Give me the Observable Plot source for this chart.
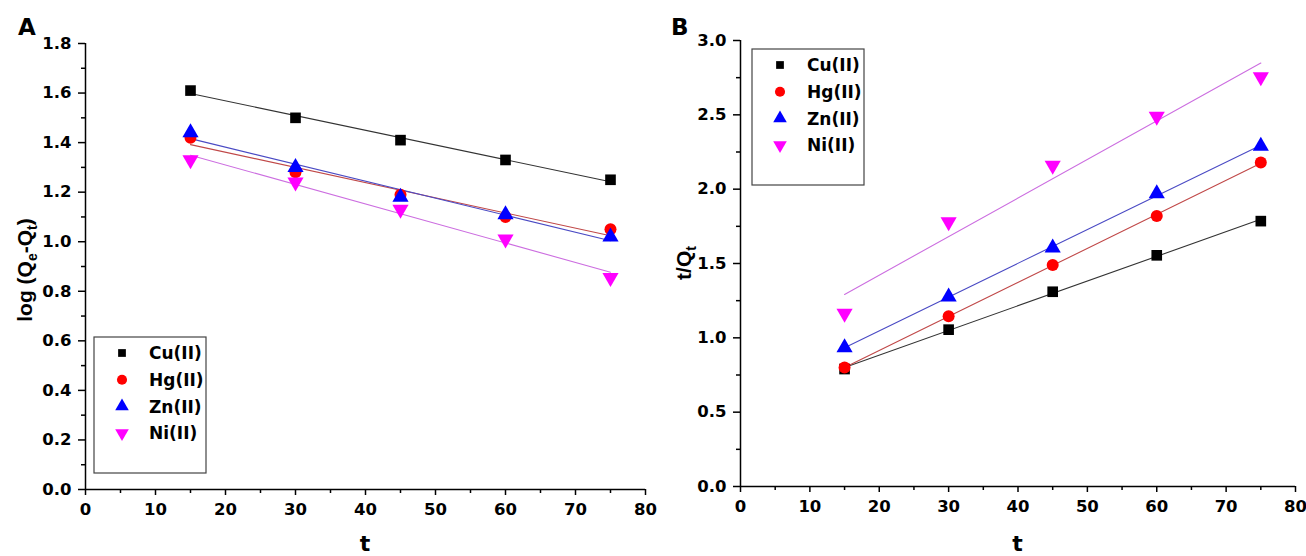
<!DOCTYPE html>
<html>
<head>
<meta charset="utf-8">
<script src="https://cdn.jsdelivr.net/npm/d3@7"></script>
<script src="https://cdn.jsdelivr.net/npm/@observablehq/plot@0.6"></script>
<style>
  html, body { margin: 0; padding: 0; background: #fff; }
  #wrap { width: 1306px; height: 556px; display: flex; background: #fff; }
  #wrap svg { display: block; background: transparent !important; }
  #wrap svg g[aria-label$="tick label"] text { font-size: 16.5px !important; font-family: 'DejaVu Sans', sans-serif !important; font-weight: bold !important; }
</style>
</head>
<body>
<div id="wrap"></div>
<script>
// ---- data ----
const times = [15, 30, 45, 60, 75];
const metals = ["Cu(II)", "Hg(II)", "Zn(II)", "Ni(II)"];
const markerColors = ["#000000", "#ff0000", "#0000ff", "#ff00ff"];
const lineColors = ["#333333", "#c04848", "#4a4ac4", "#cc6ee0"];
const symbols = ["square", "circle", "triangle", "triangle"];
const rotations = [0, 0, 0, 180];

// Panel A: log(Qe - Qt)
const logCu = [1.61, 1.50, 1.41, 1.33, 1.25];
const logHg = [1.42, 1.28, 1.19, 1.10, 1.05];
const logZn = [1.44, 1.30, 1.18, 1.11, 1.02];
const logNi = [1.33, 1.24, 1.13, 1.01, 0.855];

// Panel B: t/Qt
const tqCu = [0.79, 1.055, 1.31, 1.555, 1.785];
const tqHg = [0.80, 1.145, 1.49, 1.82, 2.18];
const tqZn = [0.935, 1.275, 1.605, 1.97, 2.29];
const tqNi = [1.165, 1.78, 2.16, 2.49, 2.755];

const xTicks = [0, 10, 20, 30, 40, 50, 60, 70, 80];
const xMinor = [5, 15, 25, 35, 45, 55, 65, 75];
const yTicksA = [0, 0.2, 0.4, 0.6, 0.8, 1.0, 1.2, 1.4, 1.6, 1.8];
const yMinorA = [0.1, 0.3, 0.5, 0.7, 0.9, 1.1, 1.3, 1.5, 1.7];
const yTicksB = [0, 0.5, 1.0, 1.5, 2.0, 2.5, 3.0];
const yMinorB = [0.25, 0.75, 1.25, 1.75, 2.25, 2.75];

const WIDE = "'DejaVu Sans', Verdana, sans-serif";
const NARROW = "'Liberation Sans', Arial, Helvetica, sans-serif";

function rows(seriesList) {
  const out = [];
  seriesList.forEach((vals, i) => vals.forEach((v, j) => out.push({metal: metals[i], idx: i, t: times[j], v})));
  return out;
}

function panel(cfg) {
  const data = rows(cfg.series);
  const marks = [
    Plot.axisX({ticks: xMinor, tickSize: 4, text: null, label: null, strokeWidth: 1.5}),
    Plot.axisY({ticks: cfg.yMinor, tickSize: 4, text: null, label: null, strokeWidth: 1.5}),
    Plot.axisX({ticks: xTicks, tickSize: 6, tickPadding: 8, label: null, strokeWidth: 1.5,
      fontSize: 16.5, fontWeight: "bold", fontFamily: WIDE, tickFormat: d3.format("d")}),
    Plot.axisY({ticks: cfg.yTicks, tickSize: 7, tickPadding: 7, label: null, strokeWidth: 1.5,
      fontSize: 16.5, fontWeight: "bold", fontFamily: WIDE, tickFormat: d3.format(".1f")}),
    Plot.ruleX([0], {stroke: "#000", strokeWidth: 1.5}),
    Plot.ruleY([0], {stroke: "#000", strokeWidth: 1.5})
  ];
  metals.forEach((m, i) => {
    marks.push(Plot.linearRegressionY(data.filter(d => d.idx === i), {x: "t", y: "v", stroke: lineColors[i], strokeWidth: 1.1, ci: 0}));
  });
  metals.forEach((m, i) => {
    marks.push(Plot.dot(data.filter(d => d.idx === i), {x: "t", y: "v", symbol: symbols[i], fill: markerColors[i], stroke: "none", r: 6, rotate: rotations[i]}));
  });
  const svg = Plot.plot({
    width: 653,
    height: 556,
    marginLeft: cfg.marginLeft,
    marginRight: cfg.marginRight,
    marginTop: cfg.marginTop,
    marginBottom: cfg.marginBottom,
    x: {domain: [0, 80]},
    y: {domain: cfg.yDomain},
    style: {fontFamily: WIDE, fontWeight: "bold", fontSize: "16.5px", color: "#000", background: "transparent", overflow: "visible"},
    marks
  });

  const s = d3.select(svg);
  s.selectAll("text").attr("fill", "#000");

  const plotLeft = cfg.marginLeft, plotRight = 653 - cfg.marginRight;
  const plotTop = cfg.marginTop, plotBottom = 556 - cfg.marginBottom;

  // panel letter
  s.append("text").attr("x", cfg.letterX).attr("y", 35)
    .attr("text-anchor", "start")
    .attr("font-family", WIDE).attr("font-size", 23).attr("font-weight", "bold").attr("fill", "#000")
    .text(cfg.letter);

  // x title
  s.append("text").attr("x", (plotLeft + plotRight) / 2).attr("y", 551)
    .attr("text-anchor", "middle").attr("font-family", WIDE).attr("font-size", 22).attr("font-weight", "bold").attr("fill", "#000")
    .text("t");

  // y title with subscripts
  const yt = s.append("text")
    .attr("transform", `translate(${cfg.yTitleX},${(plotTop + plotBottom) / 2 + cfg.yTitleShift}) rotate(-90)`)
    .attr("text-anchor", "middle").attr("font-family", NARROW).attr("font-size", 21).attr("font-weight", "bold").attr("fill", "#000");
  cfg.yTitle.forEach(([txt, kind]) => {
    const ts = yt.append("tspan").text(txt);
    if (kind === "sub") ts.attr("font-size", 14).attr("dy", 5);
    else if (kind === "back") ts.attr("dy", -5);
  });

  // legend
  const lg = s.append("g");
  lg.append("rect").attr("x", cfg.legend.x).attr("y", cfg.legend.y).attr("width", 112).attr("height", 136)
    .attr("fill", "#fff").attr("stroke", "#444").attr("stroke-width", 1.2);
  const symTypes = [d3.symbolSquare, d3.symbolCircle, d3.symbolTriangle, d3.symbolTriangle];
  metals.forEach((m, i) => {
    const cy = cfg.legend.y + 16 + i * 26.7;
    lg.append("path")
      .attr("d", d3.symbol(symTypes[i], i === 0 ? 60 : 80)())
      .attr("transform", `translate(${cfg.legend.x + 28},${cy}) rotate(${rotations[i]})`)
      .attr("fill", markerColors[i]);
    lg.append("text").attr("x", cfg.legend.x + 55).attr("y", cy).attr("dy", "0.36em")
      .attr("text-anchor", "start")
      .attr("font-family", WIDE).attr("font-size", 17).attr("font-weight", "bold").attr("fill", "#000")
      .text(m);
  });
  return svg;
}

const wrap = document.getElementById("wrap");
wrap.appendChild(panel({
  series: [logCu, logHg, logZn, logNi],
  yDomain: [0, 1.8], yTicks: yTicksA, yMinor: yMinorA,
  marginLeft: 85, marginRight: 8, marginTop: 43, marginBottom: 67,
  letter: "A", letterX: 18,
  yTitleX: 32, yTitleShift: 4,
  yTitle: [["log (Q", null], ["e", "sub"], ["-Q", "back"], ["t", "sub"], [")", "back"]],
  legend: {x: 94, y: 337}
}));
wrap.appendChild(panel({
  series: [tqCu, tqHg, tqZn, tqNi],
  yDomain: [0, 3.0], yTicks: yTicksB, yMinor: yMinorB,
  marginLeft: 87, marginRight: 11, marginTop: 40, marginBottom: 70,
  letter: "B", letterX: 18,
  yTitleX: 38, yTitleShift: 0,
  yTitle: [["t/Q", null], ["t", "sub"]],
  legend: {x: 99, y: 49}
}));
</script>
</body>
</html>
